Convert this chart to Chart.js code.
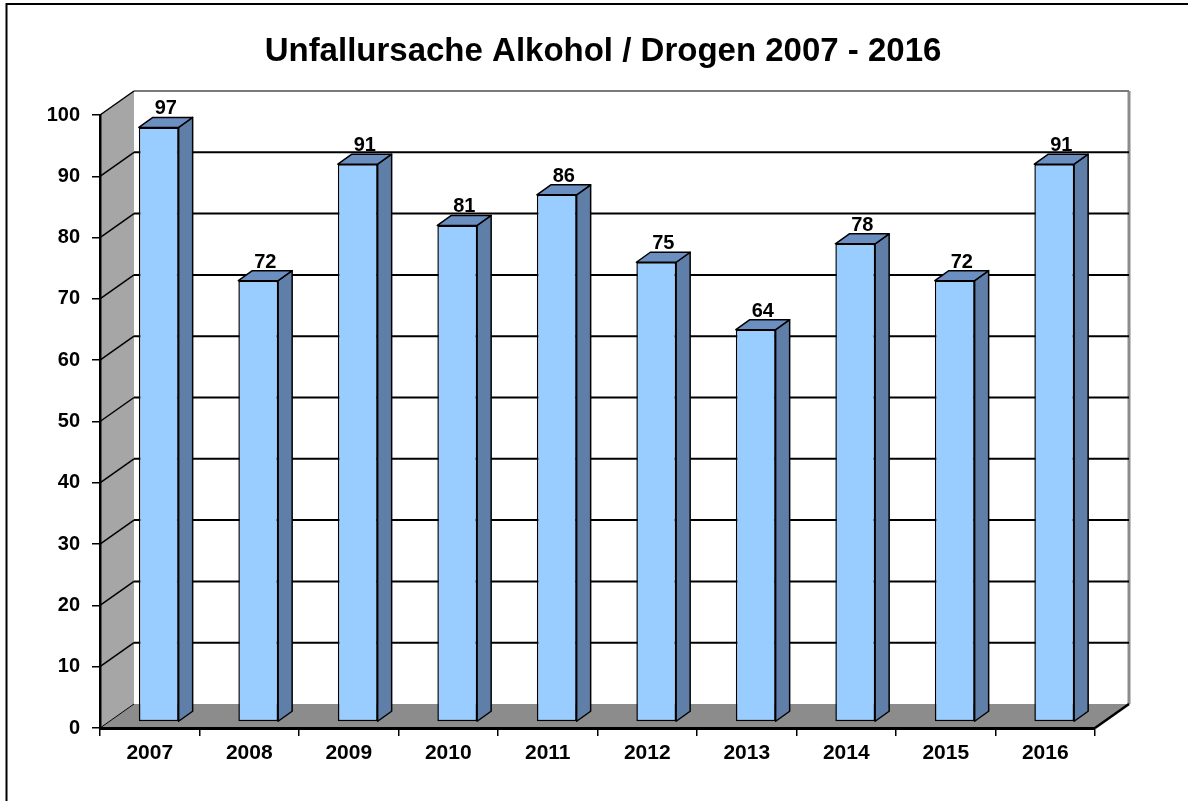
<!DOCTYPE html>
<html>
<head>
<meta charset="utf-8">
<script src="https://cdn.jsdelivr.net/npm/chart.js@4.4.1/dist/chart.umd.min.js"></script>
<style>
  html, body { margin: 0; padding: 0; background: #fff; }
  #wrap { width: 1188px; height: 801px; }
</style>
</head>
<body>
<div id="wrap"><canvas id="unfallChart" width="1188" height="801"></canvas></div>
<script>
const chartTitle = 'Unfallursache Alkohol / Drogen 2007 - 2016';
const years = ['2007', '2008', '2009', '2010', '2011', '2012', '2013', '2014', '2015', '2016'];
const counts = [97, 72, 91, 81, 86, 75, 64, 78, 72, 91];
const yMin = 0;
const yMax = 100;
const yStep = 10;

const FONT = '"Liberation Sans", Arial, sans-serif';

// 3D look: wall depth and bar depth (pixel offsets)
const WALL_DX = 34, WALL_DY = -24;
const BAR_OX = 9, BAR_OY = -6;
const BAR_DX = 14, BAR_DY = -10;

const depth3d = {
    id: 'depth3d',
    beforeDraw(chart) {
        const ctx = chart.ctx;
        const a = chart.chartArea;
        const y = chart.scales.y;
        ctx.save();

        // outer frame (only top + left visible)
        ctx.strokeStyle = '#000';
        ctx.lineWidth = 2;
        ctx.beginPath();
        ctx.moveTo(6.5, chart.height);
        ctx.lineTo(6.5, 4);
        ctx.lineTo(chart.width, 4);
        ctx.stroke();

        // title, centred on the whole picture
        ctx.fillStyle = '#000';
        ctx.font = 'bold 33px ' + FONT;
        ctx.textAlign = 'center';
        ctx.textBaseline = 'middle';
        ctx.fillText(chartTitle, chart.width / 2 + 9, 52);

        // side wall
        ctx.fillStyle = '#a6a6a6';
        ctx.beginPath();
        ctx.moveTo(a.left, a.top);
        ctx.lineTo(a.left + WALL_DX, a.top + WALL_DY);
        ctx.lineTo(a.left + WALL_DX, a.bottom + WALL_DY);
        ctx.lineTo(a.left, a.bottom);
        ctx.closePath();
        ctx.fill();

        // back wall
        ctx.fillStyle = '#fff';
        ctx.fillRect(a.left + WALL_DX, a.top + WALL_DY, a.right - a.left, a.bottom - a.top);
        ctx.strokeStyle = '#8c8c8c';
        ctx.lineWidth = 3;
        ctx.beginPath();
        ctx.moveTo(a.right + WALL_DX, a.top + WALL_DY);
        ctx.lineTo(a.right + WALL_DX, a.bottom + WALL_DY);
        ctx.stroke();

        // floor
        ctx.fillStyle = '#8c8c8c';
        ctx.beginPath();
        ctx.moveTo(a.left, a.bottom);
        ctx.lineTo(a.right, a.bottom);
        ctx.lineTo(a.right + WALL_DX, a.bottom + WALL_DY);
        ctx.lineTo(a.left + WALL_DX, a.bottom + WALL_DY);
        ctx.closePath();
        ctx.fill();

        // gridlines on back wall and side wall
        y.ticks.forEach(t => {
            if (t.value <= yMin) return;
            const py = y.getPixelForValue(t.value);
            ctx.strokeStyle = t.value >= yMax ? '#7a7a7a' : '#000';
            ctx.lineWidth = 2;
            ctx.beginPath();
            ctx.moveTo(a.left + WALL_DX, py + WALL_DY);
            ctx.lineTo(a.right + WALL_DX, py + WALL_DY);
            ctx.stroke();
            ctx.strokeStyle = '#000';
            ctx.lineWidth = 1.5;
            ctx.beginPath();
            ctx.moveTo(a.left, py);
            ctx.lineTo(a.left + WALL_DX, py + WALL_DY);
            ctx.stroke();
        });

        // floor edges
        ctx.strokeStyle = '#000';
        ctx.lineWidth = 1;
        ctx.beginPath();
        ctx.moveTo(a.left, a.bottom);
        ctx.lineTo(a.left + WALL_DX, a.bottom + WALL_DY);
        ctx.stroke();
        ctx.lineWidth = 2.5;
        ctx.beginPath();
        ctx.moveTo(a.right, a.bottom);
        ctx.lineTo(a.right + WALL_DX, a.bottom + WALL_DY);
        ctx.stroke();

        ctx.restore();
    },
    beforeDatasetsDraw(chart) {
        chart.ctx.save();
        chart.ctx.translate(BAR_OX, BAR_OY);
    },
    afterDatasetsDraw(chart) {
        const ctx = chart.ctx;
        const meta = chart.getDatasetMeta(0);
        meta.data.forEach((bar, i) => {
            const p = bar.getProps(['x', 'y', 'base', 'width'], true);
            const left = p.x - p.width / 2;
            const right = p.x + p.width / 2;
            const top = p.y;
            const bottom = p.base;

            ctx.lineWidth = 1.5;
            ctx.strokeStyle = '#000';
            ctx.lineJoin = 'round';

            // side face
            ctx.fillStyle = '#5f7fa8';
            ctx.beginPath();
            ctx.moveTo(right, top);
            ctx.lineTo(right + BAR_DX, top + BAR_DY);
            ctx.lineTo(right + BAR_DX, bottom + BAR_DY);
            ctx.lineTo(right, bottom);
            ctx.closePath();
            ctx.fill();
            ctx.stroke();

            // top face
            ctx.fillStyle = '#6c8fc2';
            ctx.beginPath();
            ctx.moveTo(left, top);
            ctx.lineTo(left + BAR_DX, top + BAR_DY);
            ctx.lineTo(right + BAR_DX, top + BAR_DY);
            ctx.lineTo(right, top);
            ctx.closePath();
            ctx.fill();
            ctx.stroke();

            // value label
            ctx.fillStyle = '#000';
            ctx.font = 'bold 20px ' + FONT;
            ctx.textAlign = 'center';
            ctx.textBaseline = 'alphabetic';
            ctx.fillText(String(counts[i]), p.x + BAR_DX / 2, top + BAR_DY - 3);
        });
        ctx.restore();
    }
};

new Chart(document.getElementById('unfallChart'), {
    type: 'bar',
    data: {
        labels: years,
        datasets: [{
            data: counts,
            backgroundColor: '#99ccff',
            borderColor: '#000',
            borderWidth: 1.5,
            borderSkipped: false,
            barPercentage: 0.4,
            categoryPercentage: 1.0,
            clip: false
        }]
    },
    options: {
        responsive: false,
        animation: false,
        layout: { padding: { left: 0, right: 93, top: 115, bottom: 0 } },
        plugins: {
            legend: { display: false },
            tooltip: { enabled: false },
            title: { display: false }
        },
        scales: {
            x: {
                afterFit(scale) { scale.height = 73; },
                grid: {
                    drawOnChartArea: false,
                    drawTicks: true,
                    tickLength: 8,
                    color: '#000',
                    lineWidth: 1.5,
                    offset: true
                },
                border: { display: true, color: '#000', width: 3 },
                ticks: {
                    color: '#000',
                    padding: 5,
                    maxRotation: 0,
                    font: { family: FONT, size: 21, weight: 'bold' }
                }
            },
            y: {
                min: yMin,
                max: yMax,
                afterFit(scale) { scale.width = 100; },
                grid: {
                    drawOnChartArea: false,
                    drawTicks: true,
                    tickLength: 8,
                    color: '#000',
                    lineWidth: 1.5
                },
                border: { display: true, color: '#000', width: 2.5 },
                ticks: {
                    stepSize: yStep,
                    color: '#000',
                    padding: 12,
                    font: { family: FONT, size: 20, weight: 'bold' }
                }
            }
        }
    },
    plugins: [depth3d]
});
</script>
</body>
</html>
